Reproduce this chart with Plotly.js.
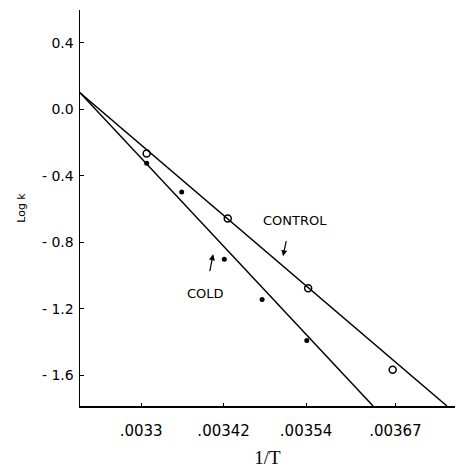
<!DOCTYPE html>
<html>
<head>
<meta charset="utf-8">
<script src="https://cdn.plot.ly/plotly-3.0.1.min.js"></script>
<style>html,body{margin:0;padding:0;background:#fff;}#chart{width:459px;height:470px;}</style>
</head>
<body>
<div id="chart"></div>
<script>
// Data
const controlX = [0.003308, 0.003426, 0.003543, 0.003666];
const controlY = [-0.266, -0.657, -1.077, -1.568];
const coldX = [0.003308, 0.003359, 0.003421, 0.003476, 0.003541];
const coldY = [-0.325, -0.497, -0.902, -1.145, -1.391];
// fitted lines (endpoints)
const controlLineX = [0.003211, 0.003745];
const controlLineY = [0.10, -1.786];
const coldLineX = [0.003211, 0.0036375];
const coldLineY = [0.10, -1.786];
// tick labels
const xTickVals = [0.0033, 0.00342, 0.00354, 0.00367];
const xTickText = ['.0033', '.00342', '.00354', '.00367'];
const yTickVals = [0.4, 0.0, -0.4, -0.8, -1.2, -1.6];
const yTickText = ['0.4', '0.0', '- 0.4', '- 0.8', '- 1.2', '- 1.6'];

const traces = [
  {x: controlLineX, y: controlLineY, mode: 'lines', line: {color: '#000', width: 1.5}, hoverinfo: 'skip'},
  {x: coldLineX, y: coldLineY, mode: 'lines', line: {color: '#000', width: 1.5}, hoverinfo: 'skip'},
  {x: controlX, y: controlY, mode: 'markers', marker: {symbol: 'circle-open', size: 7, color: '#000', line: {width: 1.5, color: '#000'}}},
  {x: coldX, y: coldY, mode: 'markers', marker: {symbol: 'circle', size: 5, color: '#000'}}
];

const layout = {
  width: 459, height: 470,
  margin: {l: 80, r: 4, t: 10, b: 64},
  paper_bgcolor: '#fff', plot_bgcolor: '#fff',
  showlegend: false,
  font: {family: 'DejaVu Sans', color: '#000', size: 13},
  xaxis: {
    range: [0.003211, 0.0037567],
    showgrid: false, zeroline: false,
    showline: true, linecolor: '#000', linewidth: 1.5,
    ticks: 'inside', ticklen: 3, tickcolor: '#000',
    tickvals: xTickVals, ticktext: xTickText,
    ticklabelstandoff: 10,
    tickfont: {family: 'DejaVu Sans', size: 15, color: '#000'},
    title: {text: '1/T', font: {family: 'Liberation Serif', size: 19, color: '#000'}, standoff: 12}
  },
  yaxis: {
    range: [-1.786, 0.598],
    showgrid: false, zeroline: false,
    showline: true, linecolor: '#000', linewidth: 1.5,
    ticks: 'inside', ticklen: 4, tickcolor: '#000',
    tickvals: yTickVals, ticktext: yTickText,
    ticklabelstandoff: 2,
    tickfont: {family: 'DejaVu Sans', size: 14, color: '#000'},
    title: {text: 'Log k', font: {family: 'DejaVu Sans', size: 11, color: '#000'}, standoff: 14}
  },
  annotations: [
    {x: 0.003524, y: -0.668, text: 'CONTROL', showarrow: false, font: {family: 'DejaVu Sans', size: 13, color: '#000'}},
    {x: 0.0033941, y: -1.107, text: 'COLD', showarrow: false, font: {family: 'DejaVu Sans', size: 13, color: '#000'}},
    {x: 0.0035065, y: -0.884, text: ' ', showarrow: true, ax: 5, ay: -24, arrowhead: 2, arrowsize: 1, arrowwidth: 1.2, arrowcolor: '#000'},
    {x: 0.0034047, y: -0.872, text: ' ', showarrow: true, ax: -5, ay: 26, arrowhead: 2, arrowsize: 1, arrowwidth: 1.2, arrowcolor: '#000'}
  ]
};

Plotly.newPlot('chart', traces, layout, {displayModeBar: false, staticPlot: true});
</script>
</body>
</html>
